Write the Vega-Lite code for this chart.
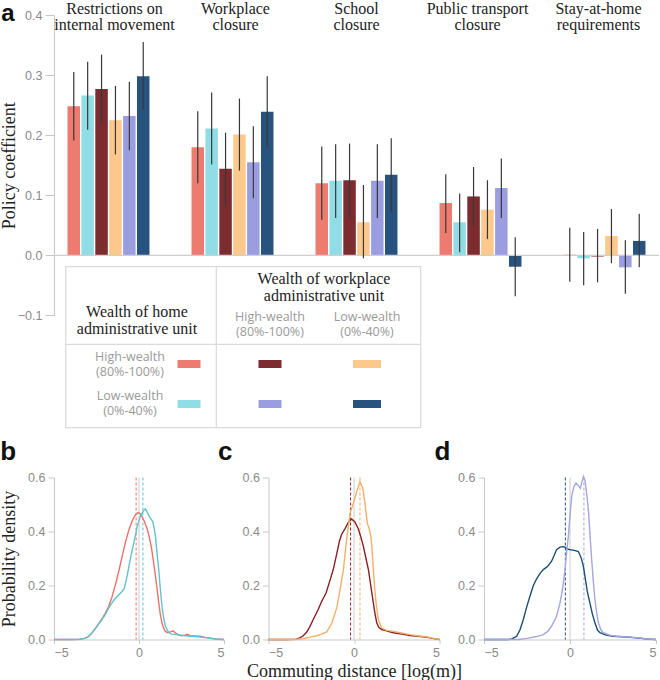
{
  "$schema": "https://vega.github.io/schema/vega-lite/v6.json",
  "background": "white",
  "padding": {"left": 0, "top": 0, "right": 0, "bottom": 0},
  "config": {
    "view": {"stroke": null},
    "axis": {"labelFont": "Liberation Sans", "labelFontSize": 12.5, "labelColor": "#8a8a8a", "domainColor": "#c8c8c8", "tickColor": "#c8c8c8", "grid": false, "titleFont": "Liberation Serif", "titleFontSize": 18, "titleFontWeight": "normal", "titleColor": "#222222", "labelPadding": 3},
    "title": {"font": "Liberation Sans", "fontSize": 26, "fontWeight": "bold", "color": "#111111", "anchor": "start", "frame": "bounds"}
  },
  "datasets": {
    "coef": [
      {"policy": "Restrictions on internal movement", "group": "home_high", "coef": 0.248, "lo": 0.191, "hi": 0.305},
      {"policy": "Restrictions on internal movement", "group": "home_low", "coef": 0.266, "lo": 0.209, "hi": 0.322},
      {"policy": "Restrictions on internal movement", "group": "hh_wh", "coef": 0.277, "lo": 0.220, "hi": 0.334},
      {"policy": "Restrictions on internal movement", "group": "hh_wl", "coef": 0.225, "lo": 0.168, "hi": 0.282},
      {"policy": "Restrictions on internal movement", "group": "hl_wh", "coef": 0.232, "lo": 0.175, "hi": 0.289},
      {"policy": "Restrictions on internal movement", "group": "hl_wl", "coef": 0.298, "lo": 0.242, "hi": 0.355},
      {"policy": "Workplace closure", "group": "home_high", "coef": 0.180, "lo": 0.120, "hi": 0.240},
      {"policy": "Workplace closure", "group": "home_low", "coef": 0.211, "lo": 0.151, "hi": 0.271},
      {"policy": "Workplace closure", "group": "hh_wh", "coef": 0.144, "lo": 0.084, "hi": 0.204},
      {"policy": "Workplace closure", "group": "hh_wl", "coef": 0.201, "lo": 0.141, "hi": 0.261},
      {"policy": "Workplace closure", "group": "hl_wh", "coef": 0.155, "lo": 0.095, "hi": 0.215},
      {"policy": "Workplace closure", "group": "hl_wl", "coef": 0.239, "lo": 0.180, "hi": 0.298},
      {"policy": "School closure", "group": "home_high", "coef": 0.120, "lo": 0.059, "hi": 0.181},
      {"policy": "School closure", "group": "home_low", "coef": 0.124, "lo": 0.062, "hi": 0.185},
      {"policy": "School closure", "group": "hh_wh", "coef": 0.125, "lo": 0.063, "hi": 0.186},
      {"policy": "School closure", "group": "hh_wl", "coef": 0.055, "lo": -0.005, "hi": 0.117},
      {"policy": "School closure", "group": "hl_wh", "coef": 0.124, "lo": 0.062, "hi": 0.185},
      {"policy": "School closure", "group": "hl_wl", "coef": 0.134, "lo": 0.073, "hi": 0.195},
      {"policy": "Public transport closure", "group": "home_high", "coef": 0.087, "lo": 0.037, "hi": 0.135},
      {"policy": "Public transport closure", "group": "home_low", "coef": 0.055, "lo": 0.005, "hi": 0.103},
      {"policy": "Public transport closure", "group": "hh_wh", "coef": 0.098, "lo": 0.048, "hi": 0.147},
      {"policy": "Public transport closure", "group": "hh_wl", "coef": 0.076, "lo": 0.027, "hi": 0.125},
      {"policy": "Public transport closure", "group": "hl_wh", "coef": 0.112, "lo": 0.062, "hi": 0.161},
      {"policy": "Public transport closure", "group": "hl_wl", "coef": -0.019, "lo": -0.068, "hi": 0.030},
      {"policy": "Stay-at-home requirements", "group": "home_high", "coef": 0.001, "lo": -0.044, "hi": 0.046},
      {"policy": "Stay-at-home requirements", "group": "home_low", "coef": -0.005, "lo": -0.050, "hi": 0.039},
      {"policy": "Stay-at-home requirements", "group": "hh_wh", "coef": -0.002, "lo": -0.045, "hi": 0.044},
      {"policy": "Stay-at-home requirements", "group": "hh_wl", "coef": 0.032, "lo": -0.013, "hi": 0.077},
      {"policy": "Stay-at-home requirements", "group": "hl_wh", "coef": -0.020, "lo": -0.064, "hi": 0.025},
      {"policy": "Stay-at-home requirements", "group": "hl_wl", "coef": 0.024, "lo": -0.020, "hi": 0.069}
    ],
    "policyTitles": [
      {"policy": "Restrictions on internal movement", "label": "Restrictions on\ninternal movement"},
      {"policy": "Workplace closure", "label": "Workplace\nclosure"},
      {"policy": "School closure", "label": "School\nclosure"},
      {"policy": "Public transport closure", "label": "Public transport\nclosure"},
      {"policy": "Stay-at-home requirements", "label": "Stay-at-home\nrequirements"}
    ],
    "legendTable": [
      {"part": "box", "c": 0, "c2": 8, "r": 0, "r2": 9},
      {"part": "line", "c": 4, "c2": 4, "r": 0, "r2": 9},
      {"part": "line", "c": 0, "c2": 8, "r": 4, "r2": 4},
      {"part": "head", "c": 2, "r": 2, "text": "Wealth of home\nadministrative unit"},
      {"part": "head", "c": 6, "r": 1, "text": "Wealth of workplace\nadministrative unit"},
      {"part": "sub", "c": 5, "r": 3, "text": "High-wealth\n(80%-100%)"},
      {"part": "sub", "c": 7, "r": 3, "text": "Low-wealth\n(0%-40%)"},
      {"part": "sub", "c": 1, "r": 5, "text": "High-wealth\n(80%-100%)"},
      {"part": "sub", "c": 1, "r": 7, "text": "Low-wealth\n(0%-40%)"},
      {"part": "swatch", "c": 3, "r": 6, "group": "home_high"},
      {"part": "swatch", "c": 5, "r": 6, "group": "hh_wh"},
      {"part": "swatch", "c": 7, "r": 6, "group": "hh_wl"},
      {"part": "swatch", "c": 3, "r": 8, "group": "home_low"},
      {"part": "swatch", "c": 5, "r": 8, "group": "hl_wh"},
      {"part": "swatch", "c": 7, "r": 8, "group": "hl_wl"}
    ],
    "means": [
      {"panel": "b", "group": "home_high", "x": -0.17},
      {"panel": "b", "group": "home_low", "x": 0.23},
      {"panel": "c", "group": "hh_wh", "x": -0.2},
      {"panel": "c", "group": "hh_wl", "x": 0.35},
      {"panel": "d", "group": "hl_wl", "x": -0.27},
      {"panel": "d", "group": "hl_wh", "x": 0.81}
    ],
    "dens": [
      {"panel":"b","group":"home_high","x":-5,"y":0},{"panel":"b","group":"home_high","x":-4,"y":0},{"panel":"b","group":"home_high","x":-3.5,"y":0.001},{"panel":"b","group":"home_high","x":-3.2,"y":0.004},{"panel":"b","group":"home_high","x":-3.0,"y":0.01},{"panel":"b","group":"home_high","x":-2.8,"y":0.022},{"panel":"b","group":"home_high","x":-2.6,"y":0.038},{"panel":"b","group":"home_high","x":-2.4,"y":0.056},{"panel":"b","group":"home_high","x":-2.2,"y":0.075},{"panel":"b","group":"home_high","x":-2.0,"y":0.095},{"panel":"b","group":"home_high","x":-1.8,"y":0.12},{"panel":"b","group":"home_high","x":-1.6,"y":0.155},{"panel":"b","group":"home_high","x":-1.4,"y":0.2},{"panel":"b","group":"home_high","x":-1.2,"y":0.25},{"panel":"b","group":"home_high","x":-1.0,"y":0.305},{"panel":"b","group":"home_high","x":-0.8,"y":0.36},{"panel":"b","group":"home_high","x":-0.6,"y":0.405},{"panel":"b","group":"home_high","x":-0.4,"y":0.44},{"panel":"b","group":"home_high","x":-0.2,"y":0.463},{"panel":"b","group":"home_high","x":-0.05,"y":0.47},{"panel":"b","group":"home_high","x":0.1,"y":0.465},{"panel":"b","group":"home_high","x":0.3,"y":0.44},{"panel":"b","group":"home_high","x":0.48,"y":0.41},{"panel":"b","group":"home_high","x":0.6,"y":0.38},{"panel":"b","group":"home_high","x":0.72,"y":0.345},{"panel":"b","group":"home_high","x":0.85,"y":0.29},{"panel":"b","group":"home_high","x":0.97,"y":0.234},{"panel":"b","group":"home_high","x":1.07,"y":0.185},{"panel":"b","group":"home_high","x":1.16,"y":0.136},{"panel":"b","group":"home_high","x":1.25,"y":0.095},{"panel":"b","group":"home_high","x":1.35,"y":0.062},{"panel":"b","group":"home_high","x":1.45,"y":0.042},{"panel":"b","group":"home_high","x":1.55,"y":0.03},{"panel":"b","group":"home_high","x":1.7,"y":0.025},{"panel":"b","group":"home_high","x":1.85,"y":0.028},{"panel":"b","group":"home_high","x":2.0,"y":0.032},{"panel":"b","group":"home_high","x":2.15,"y":0.024},{"panel":"b","group":"home_high","x":2.3,"y":0.017},{"panel":"b","group":"home_high","x":2.5,"y":0.014},{"panel":"b","group":"home_high","x":2.7,"y":0.016},{"panel":"b","group":"home_high","x":2.85,"y":0.019},{"panel":"b","group":"home_high","x":3.0,"y":0.014},{"panel":"b","group":"home_high","x":3.3,"y":0.013},{"panel":"b","group":"home_high","x":3.6,"y":0.012},{"panel":"b","group":"home_high","x":3.9,"y":0.008},{"panel":"b","group":"home_high","x":4.2,"y":0.005},{"panel":"b","group":"home_high","x":4.5,"y":0.002},{"panel":"b","group":"home_high","x":5,"y":0},
      {"panel":"b","group":"home_low","x":-5,"y":0},{"panel":"b","group":"home_low","x":-4,"y":0},{"panel":"b","group":"home_low","x":-3.5,"y":0.001},{"panel":"b","group":"home_low","x":-3.2,"y":0.004},{"panel":"b","group":"home_low","x":-3.0,"y":0.01},{"panel":"b","group":"home_low","x":-2.8,"y":0.022},{"panel":"b","group":"home_low","x":-2.6,"y":0.038},{"panel":"b","group":"home_low","x":-2.4,"y":0.055},{"panel":"b","group":"home_low","x":-2.2,"y":0.072},{"panel":"b","group":"home_low","x":-2.0,"y":0.09},{"panel":"b","group":"home_low","x":-1.84,"y":0.11},{"panel":"b","group":"home_low","x":-1.65,"y":0.13},{"panel":"b","group":"home_low","x":-1.45,"y":0.148},{"panel":"b","group":"home_low","x":-1.2,"y":0.165},{"panel":"b","group":"home_low","x":-1.0,"y":0.178},{"panel":"b","group":"home_low","x":-0.87,"y":0.188},{"panel":"b","group":"home_low","x":-0.7,"y":0.235},{"panel":"b","group":"home_low","x":-0.48,"y":0.308},{"panel":"b","group":"home_low","x":-0.3,"y":0.36},{"panel":"b","group":"home_low","x":-0.1,"y":0.42},{"panel":"b","group":"home_low","x":0.1,"y":0.46},{"panel":"b","group":"home_low","x":0.3,"y":0.48},{"panel":"b","group":"home_low","x":0.38,"y":0.484},{"panel":"b","group":"home_low","x":0.48,"y":0.472},{"panel":"b","group":"home_low","x":0.6,"y":0.456},{"panel":"b","group":"home_low","x":0.7,"y":0.447},{"panel":"b","group":"home_low","x":0.81,"y":0.437},{"panel":"b","group":"home_low","x":0.9,"y":0.41},{"panel":"b","group":"home_low","x":0.97,"y":0.38},{"panel":"b","group":"home_low","x":1.06,"y":0.32},{"panel":"b","group":"home_low","x":1.16,"y":0.26},{"panel":"b","group":"home_low","x":1.25,"y":0.19},{"panel":"b","group":"home_low","x":1.35,"y":0.123},{"panel":"b","group":"home_low","x":1.45,"y":0.08},{"panel":"b","group":"home_low","x":1.55,"y":0.05},{"panel":"b","group":"home_low","x":1.7,"y":0.03},{"panel":"b","group":"home_low","x":1.9,"y":0.02},{"panel":"b","group":"home_low","x":2.2,"y":0.018},{"panel":"b","group":"home_low","x":2.6,"y":0.015},{"panel":"b","group":"home_low","x":3.0,"y":0.012},{"panel":"b","group":"home_low","x":3.5,"y":0.01},{"panel":"b","group":"home_low","x":4.0,"y":0.006},{"panel":"b","group":"home_low","x":4.5,"y":0.002},{"panel":"b","group":"home_low","x":5,"y":0},
      {"panel":"c","group":"hh_wh","x":-5,"y":0},{"panel":"c","group":"hh_wh","x":-4,"y":0},{"panel":"c","group":"hh_wh","x":-3.4,"y":0.001},{"panel":"c","group":"hh_wh","x":-3.2,"y":0.005},{"panel":"c","group":"hh_wh","x":-3.0,"y":0.012},{"panel":"c","group":"hh_wh","x":-2.8,"y":0.025},{"panel":"c","group":"hh_wh","x":-2.6,"y":0.045},{"panel":"c","group":"hh_wh","x":-2.4,"y":0.072},{"panel":"c","group":"hh_wh","x":-2.1,"y":0.11},{"panel":"c","group":"hh_wh","x":-1.9,"y":0.14},{"panel":"c","group":"hh_wh","x":-1.63,"y":0.173},{"panel":"c","group":"hh_wh","x":-1.4,"y":0.22},{"panel":"c","group":"hh_wh","x":-1.21,"y":0.26},{"panel":"c","group":"hh_wh","x":-1.0,"y":0.32},{"panel":"c","group":"hh_wh","x":-0.85,"y":0.365},{"panel":"c","group":"hh_wh","x":-0.72,"y":0.39},{"panel":"c","group":"hh_wh","x":-0.53,"y":0.41},{"panel":"c","group":"hh_wh","x":-0.35,"y":0.432},{"panel":"c","group":"hh_wh","x":-0.14,"y":0.446},{"panel":"c","group":"hh_wh","x":0.05,"y":0.435},{"panel":"c","group":"hh_wh","x":0.25,"y":0.41},{"panel":"c","group":"hh_wh","x":0.4,"y":0.38},{"panel":"c","group":"hh_wh","x":0.55,"y":0.345},{"panel":"c","group":"hh_wh","x":0.7,"y":0.3},{"panel":"c","group":"hh_wh","x":0.84,"y":0.26},{"panel":"c","group":"hh_wh","x":0.98,"y":0.2},{"panel":"c","group":"hh_wh","x":1.13,"y":0.136},{"panel":"c","group":"hh_wh","x":1.23,"y":0.095},{"panel":"c","group":"hh_wh","x":1.33,"y":0.062},{"panel":"c","group":"hh_wh","x":1.45,"y":0.045},{"panel":"c","group":"hh_wh","x":1.62,"y":0.037},{"panel":"c","group":"hh_wh","x":1.8,"y":0.034},{"panel":"c","group":"hh_wh","x":2.0,"y":0.03},{"panel":"c","group":"hh_wh","x":2.3,"y":0.025},{"panel":"c","group":"hh_wh","x":2.6,"y":0.022},{"panel":"c","group":"hh_wh","x":2.9,"y":0.019},{"panel":"c","group":"hh_wh","x":3.27,"y":0.015},{"panel":"c","group":"hh_wh","x":3.6,"y":0.013},{"panel":"c","group":"hh_wh","x":4.0,"y":0.01},{"panel":"c","group":"hh_wh","x":4.3,"y":0.008},{"panel":"c","group":"hh_wh","x":4.6,"y":0.004},{"panel":"c","group":"hh_wh","x":5,"y":0},
      {"panel":"c","group":"hh_wl","x":-5,"y":0},{"panel":"c","group":"hh_wl","x":-3.5,"y":0},{"panel":"c","group":"hh_wl","x":-3.0,"y":0.003},{"panel":"c","group":"hh_wl","x":-2.6,"y":0.008},{"panel":"c","group":"hh_wl","x":-2.2,"y":0.014},{"panel":"c","group":"hh_wl","x":-1.9,"y":0.02},{"panel":"c","group":"hh_wl","x":-1.6,"y":0.028},{"panel":"c","group":"hh_wl","x":-1.3,"y":0.06},{"panel":"c","group":"hh_wl","x":-1.01,"y":0.117},{"panel":"c","group":"hh_wl","x":-0.8,"y":0.19},{"panel":"c","group":"hh_wl","x":-0.62,"y":0.259},{"panel":"c","group":"hh_wl","x":-0.43,"y":0.37},{"panel":"c","group":"hh_wl","x":-0.23,"y":0.468},{"panel":"c","group":"hh_wl","x":-0.04,"y":0.505},{"panel":"c","group":"hh_wl","x":0.15,"y":0.545},{"panel":"c","group":"hh_wl","x":0.35,"y":0.585},{"panel":"c","group":"hh_wl","x":0.51,"y":0.56},{"panel":"c","group":"hh_wl","x":0.64,"y":0.505},{"panel":"c","group":"hh_wl","x":0.78,"y":0.43},{"panel":"c","group":"hh_wl","x":0.88,"y":0.412},{"panel":"c","group":"hh_wl","x":0.99,"y":0.382},{"panel":"c","group":"hh_wl","x":1.06,"y":0.33},{"panel":"c","group":"hh_wl","x":1.13,"y":0.26},{"panel":"c","group":"hh_wl","x":1.21,"y":0.19},{"panel":"c","group":"hh_wl","x":1.29,"y":0.136},{"panel":"c","group":"hh_wl","x":1.42,"y":0.074},{"panel":"c","group":"hh_wl","x":1.62,"y":0.043},{"panel":"c","group":"hh_wl","x":1.9,"y":0.034},{"panel":"c","group":"hh_wl","x":2.3,"y":0.03},{"panel":"c","group":"hh_wl","x":2.7,"y":0.025},{"panel":"c","group":"hh_wl","x":3.27,"y":0.018},{"panel":"c","group":"hh_wl","x":3.8,"y":0.013},{"panel":"c","group":"hh_wl","x":4.25,"y":0.01},{"panel":"c","group":"hh_wl","x":4.6,"y":0.005},{"panel":"c","group":"hh_wl","x":5,"y":0},
      {"panel":"d","group":"hl_wl","x":-5,"y":0},{"panel":"d","group":"hl_wl","x":-3.6,"y":0},{"panel":"d","group":"hl_wl","x":-3.39,"y":0.002},{"panel":"d","group":"hl_wl","x":-3.1,"y":0.012},{"panel":"d","group":"hl_wl","x":-2.9,"y":0.037},{"panel":"d","group":"hl_wl","x":-2.71,"y":0.075},{"panel":"d","group":"hl_wl","x":-2.52,"y":0.12},{"panel":"d","group":"hl_wl","x":-2.33,"y":0.16},{"panel":"d","group":"hl_wl","x":-2.13,"y":0.2},{"panel":"d","group":"hl_wl","x":-1.94,"y":0.225},{"panel":"d","group":"hl_wl","x":-1.74,"y":0.245},{"panel":"d","group":"hl_wl","x":-1.55,"y":0.259},{"panel":"d","group":"hl_wl","x":-1.36,"y":0.268},{"panel":"d","group":"hl_wl","x":-1.26,"y":0.274},{"panel":"d","group":"hl_wl","x":-1.07,"y":0.29},{"panel":"d","group":"hl_wl","x":-0.93,"y":0.31},{"panel":"d","group":"hl_wl","x":-0.78,"y":0.333},{"panel":"d","group":"hl_wl","x":-0.58,"y":0.342},{"panel":"d","group":"hl_wl","x":-0.4,"y":0.344},{"panel":"d","group":"hl_wl","x":-0.29,"y":0.342},{"panel":"d","group":"hl_wl","x":-0.16,"y":0.335},{"panel":"d","group":"hl_wl","x":0,"y":0.333},{"panel":"d","group":"hl_wl","x":0.25,"y":0.33},{"panel":"d","group":"hl_wl","x":0.48,"y":0.326},{"panel":"d","group":"hl_wl","x":0.6,"y":0.31},{"panel":"d","group":"hl_wl","x":0.68,"y":0.296},{"panel":"d","group":"hl_wl","x":0.78,"y":0.27},{"panel":"d","group":"hl_wl","x":0.87,"y":0.234},{"panel":"d","group":"hl_wl","x":1.0,"y":0.18},{"panel":"d","group":"hl_wl","x":1.16,"y":0.135},{"panel":"d","group":"hl_wl","x":1.3,"y":0.095},{"panel":"d","group":"hl_wl","x":1.45,"y":0.062},{"panel":"d","group":"hl_wl","x":1.6,"y":0.035},{"panel":"d","group":"hl_wl","x":1.74,"y":0.025},{"panel":"d","group":"hl_wl","x":2.1,"y":0.016},{"panel":"d","group":"hl_wl","x":2.52,"y":0.012},{"panel":"d","group":"hl_wl","x":3.0,"y":0.01},{"panel":"d","group":"hl_wl","x":3.49,"y":0.008},{"panel":"d","group":"hl_wl","x":4.0,"y":0.005},{"panel":"d","group":"hl_wl","x":4.5,"y":0.002},{"panel":"d","group":"hl_wl","x":5,"y":0},
      {"panel":"d","group":"hl_wh","x":-5,"y":0},{"panel":"d","group":"hl_wh","x":-3,"y":0},{"panel":"d","group":"hl_wh","x":-2.5,"y":0.004},{"panel":"d","group":"hl_wh","x":-2.0,"y":0.01},{"panel":"d","group":"hl_wh","x":-1.55,"y":0.018},{"panel":"d","group":"hl_wh","x":-1.3,"y":0.03},{"panel":"d","group":"hl_wh","x":-1.07,"y":0.05},{"panel":"d","group":"hl_wh","x":-0.9,"y":0.07},{"panel":"d","group":"hl_wh","x":-0.78,"y":0.086},{"panel":"d","group":"hl_wh","x":-0.6,"y":0.13},{"panel":"d","group":"hl_wh","x":-0.48,"y":0.17},{"panel":"d","group":"hl_wh","x":-0.38,"y":0.21},{"panel":"d","group":"hl_wh","x":-0.29,"y":0.26},{"panel":"d","group":"hl_wh","x":-0.2,"y":0.32},{"panel":"d","group":"hl_wh","x":-0.1,"y":0.38},{"panel":"d","group":"hl_wh","x":0.0,"y":0.46},{"panel":"d","group":"hl_wh","x":0.1,"y":0.53},{"panel":"d","group":"hl_wh","x":0.22,"y":0.565},{"panel":"d","group":"hl_wh","x":0.35,"y":0.58},{"panel":"d","group":"hl_wh","x":0.48,"y":0.57},{"panel":"d","group":"hl_wh","x":0.6,"y":0.56},{"panel":"d","group":"hl_wh","x":0.7,"y":0.585},{"panel":"d","group":"hl_wh","x":0.78,"y":0.604},{"panel":"d","group":"hl_wh","x":0.87,"y":0.59},{"panel":"d","group":"hl_wh","x":0.97,"y":0.54},{"panel":"d","group":"hl_wh","x":1.07,"y":0.48},{"panel":"d","group":"hl_wh","x":1.17,"y":0.38},{"panel":"d","group":"hl_wh","x":1.26,"y":0.296},{"panel":"d","group":"hl_wh","x":1.35,"y":0.22},{"panel":"d","group":"hl_wh","x":1.45,"y":0.148},{"panel":"d","group":"hl_wh","x":1.55,"y":0.1},{"panel":"d","group":"hl_wh","x":1.65,"y":0.062},{"panel":"d","group":"hl_wh","x":1.8,"y":0.035},{"panel":"d","group":"hl_wh","x":1.94,"y":0.025},{"panel":"d","group":"hl_wh","x":2.3,"y":0.016},{"panel":"d","group":"hl_wh","x":2.71,"y":0.012},{"panel":"d","group":"hl_wh","x":3.1,"y":0.01},{"panel":"d","group":"hl_wh","x":3.49,"y":0.009},{"panel":"d","group":"hl_wh","x":4.0,"y":0.006},{"panel":"d","group":"hl_wh","x":4.5,"y":0.002},{"panel":"d","group":"hl_wh","x":5,"y":0}
    ]
  },
  "spacing": 161.5,
  "bounds": "flush",
  "vconcat": [
    {
      "width": 605,
      "height": 300.4,
      "title": {"text": "a", "offset": -25, "dx": 1, "fontSize": 24},
      "resolve": {"scale": {"x": "independent", "y": "independent"}},
      "layer": [
        {
          "data": {"name": "coef"},
          "mark": {"type": "bar"},
          "encoding": {
            "x": {"field": "policy", "type": "nominal", "scale": {"domain": ["Restrictions on internal movement", "Workplace closure", "School closure", "Public transport closure", "Stay-at-home requirements"], "paddingInner": 0.339, "paddingOuter": 0.109}, "axis": null},
            "xOffset": {"field": "group", "type": "nominal", "scale": {"domain": ["home_high", "home_low", "hh_wh", "hh_wl", "hl_wh", "hl_wl"], "paddingInner": 0.1, "paddingOuter": 0}},
            "y": {"field": "coef", "type": "quantitative", "scale": {"domain": [-0.1, 0.4], "nice": false, "zero": false}, "axis": {"values": [-0.1, 0, 0.1, 0.2, 0.3, 0.4], "format": ".1f", "title": "Policy coefficient", "tickSize": 9, "titlePadding": -1}},
            "color": {"field": "group", "type": "nominal", "scale": {"domain": ["home_high", "home_low", "hh_wh", "hh_wl", "hl_wh", "hl_wl"], "range": ["#EE7B6F", "#91DDE6", "#7C2B2F", "#FDC88B", "#9A9EE0", "#29537F"]}, "legend": null}
          }
        },
        {
          "data": {"values": [{"ref": 0}]},
          "mark": {"type": "rule", "color": "#cfcfcf", "strokeWidth": 1.2},
          "encoding": {"y": {"field": "ref", "type": "quantitative", "scale": {"domain": [-0.1, 0.4], "nice": false, "zero": false}, "axis": null}}
        },
        {
          "data": {"name": "coef"},
          "mark": {"type": "rule", "color": "#383838", "strokeWidth": 1.2},
          "encoding": {
            "x": {"field": "policy", "type": "nominal", "scale": {"domain": ["Restrictions on internal movement", "Workplace closure", "School closure", "Public transport closure", "Stay-at-home requirements"], "paddingInner": 0.339, "paddingOuter": 0.109}, "axis": null},
            "xOffset": {"field": "group", "type": "nominal"},
            "y": {"field": "lo", "type": "quantitative", "scale": {"domain": [-0.1, 0.4], "nice": false, "zero": false}, "axis": null},
            "y2": {"field": "hi"}
          }
        },
        {
          "data": {"name": "policyTitles"},
          "mark": {"type": "text", "font": "Liberation Serif", "fontSize": 16, "lineBreak": "\n", "lineHeight": 16.5, "baseline": "middle", "align": "center", "dy": -6.5, "color": "#222222"},
          "encoding": {
            "x": {"field": "policy", "type": "nominal", "scale": {"domain": ["Restrictions on internal movement", "Workplace closure", "School closure", "Public transport closure", "Stay-at-home requirements"], "paddingInner": 0.339, "paddingOuter": 0.109}, "axis": null},
            "y": {"datum": 0.4, "type": "quantitative", "scale": {"domain": [-0.1, 0.4], "nice": false, "zero": false}, "axis": null},
            "text": {"field": "label"}
          }
        },
        {
          "data": {"name": "legendTable"},
          "encoding": {
            "x": {"field": "c", "type": "quantitative", "scale": {"domain": [0, 1, 2, 3, 4, 5, 6, 7, 8], "range": [11.7, 76, 83, 135, 162.3, 216, 270, 313, 366.7], "nice": false, "zero": false}, "axis": null},
            "y": {"field": "r", "type": "quantitative", "scale": {"domain": [0, 1, 2, 3, 4, 5, 6, 7, 8, 9], "range": [251.6, 264.3, 297.3, 301.6, 329.3, 342.3, 349, 381.3, 389, 412.6], "nice": false, "zero": false}, "axis": null}
          },
          "layer": [
            {"transform": [{"filter": "datum.part == 'box'"}], "mark": {"type": "rect", "fill": "transparent", "stroke": "#dadada", "strokeWidth": 1.2}, "encoding": {"x2": {"field": "c2"}, "y2": {"field": "r2"}}},
            {"transform": [{"filter": "datum.part == 'line'"}], "mark": {"type": "rule", "color": "#dadada", "strokeWidth": 1.2}, "encoding": {"x2": {"field": "c2"}, "y2": {"field": "r2"}}},
            {"transform": [{"filter": "datum.part == 'head'"}], "mark": {"type": "text", "font": "Liberation Serif", "fontSize": 16, "lineBreak": "\n", "lineHeight": 17, "baseline": "middle", "align": "center", "color": "#222222"}, "encoding": {"text": {"field": "text"}}},
            {"transform": [{"filter": "datum.part == 'sub'"}], "mark": {"type": "text", "font": "Open Sans", "fontSize": 12.5, "lineBreak": "\n", "lineHeight": 15, "baseline": "middle", "align": "center", "color": "#9a9a9a"}, "encoding": {"text": {"field": "text"}}},
            {"transform": [{"filter": "datum.part == 'swatch' && datum.c < 7"}], "mark": {"type": "tick", "orient": "horizontal", "size": 23, "thickness": 8, "opacity": 1}, "encoding": {"color": {"field": "group", "type": "nominal", "legend": null}}},
            {"transform": [{"filter": "datum.part == 'swatch' && datum.c == 7"}], "mark": {"type": "tick", "orient": "horizontal", "size": 28, "thickness": 8, "opacity": 1}, "encoding": {"color": {"field": "group", "type": "nominal", "legend": null}}}
          ]
        }
      ]
    },
    {
      "spacing": 44.5,
      "bounds": "flush",
      "hconcat": [
        {
          "width": 170,
          "height": 162,
          "title": {"text": "b", "offset": 7},
          "encoding": {"x": {"field": "x", "type": "quantitative", "scale": {"domain": [-5, 5], "nice": false, "zero": false}, "axis": {"values": [-5, 0, 5], "title": null, "tickSize": 4}}},
          "layer": [
            {"data": {"values": [{"x": 0}]}, "mark": {"type": "rule", "color": "#cccccc", "strokeWidth": 1}},
            {"data": {"name": "means"}, "transform": [{"filter": "datum.panel == 'b'"}], "mark": {"type": "rule", "strokeDash": [3, 2], "strokeWidth": 1}, "encoding": {"stroke": {"field": "group", "type": "nominal", "scale": {"domain": ["home_high", "home_low", "hh_wh", "hh_wl", "hl_wh", "hl_wl"], "range": ["#E8736A", "#5FC3CD", "#8A1F24", "#F2B068", "#A4A7E2", "#1E4E75"]}, "legend": null}}},
            {"data": {"name": "dens"}, "transform": [{"filter": "datum.panel == 'b'"}], "mark": {"type": "line", "strokeWidth": 1.4}, "encoding": {"y": {"field": "y", "type": "quantitative", "scale": {"domain": [0, 0.6], "nice": false}, "axis": {"values": [0, 0.2, 0.4, 0.6], "format": ".1f", "title": "Probability density", "tickSize": 6, "titlePadding": 9.3}}, "stroke": {"field": "group", "type": "nominal", "scale": {"domain": ["home_high", "home_low", "hh_wh", "hh_wl", "hl_wh", "hl_wl"], "range": ["#E8736A", "#5FC3CD", "#8A1F24", "#F2B068", "#A4A7E2", "#1E4E75"]}, "legend": null}}}
          ]
        },
        {
          "width": 171,
          "height": 162,
          "title": {"text": "c", "offset": 7, "dx": -24},
          "encoding": {"x": {"field": "x", "type": "quantitative", "scale": {"domain": [-5, 5], "nice": false, "zero": false}, "axis": {"values": [-5, 0, 5], "title": "Commuting distance [log(m)]", "tickSize": 4, "titlePadding": 3}}},
          "layer": [
            {"data": {"values": [{"x": 0}]}, "mark": {"type": "rule", "color": "#cccccc", "strokeWidth": 1}},
            {"data": {"name": "means"}, "transform": [{"filter": "datum.panel == 'c'"}], "mark": {"type": "rule", "strokeDash": [3, 2], "strokeWidth": 1}, "encoding": {"stroke": {"field": "group", "type": "nominal", "scale": {"domain": ["home_high", "home_low", "hh_wh", "hh_wl", "hl_wh", "hl_wl"], "range": ["#E8736A", "#5FC3CD", "#8A1F24", "#F2B068", "#A4A7E2", "#1E4E75"]}, "legend": null}}},
            {"data": {"name": "dens"}, "transform": [{"filter": "datum.panel == 'c'"}], "mark": {"type": "line", "strokeWidth": 1.4}, "encoding": {"y": {"field": "y", "type": "quantitative", "scale": {"domain": [0, 0.6], "nice": false}, "axis": {"values": [0, 0.2, 0.4, 0.6], "format": ".1f", "title": null, "tickSize": 6}}, "stroke": {"field": "group", "type": "nominal", "scale": {"domain": ["home_high", "home_low", "hh_wh", "hh_wl", "hl_wh", "hl_wl"], "range": ["#E8736A", "#5FC3CD", "#8A1F24", "#F2B068", "#A4A7E2", "#1E4E75"]}, "legend": null}}}
          ]
        },
        {
          "width": 172,
          "height": 162,
          "title": {"text": "d", "offset": 7, "dx": -23},
          "encoding": {"x": {"field": "x", "type": "quantitative", "scale": {"domain": [-5, 5], "nice": false, "zero": false}, "axis": {"values": [-5, 0, 5], "title": null, "tickSize": 4}}},
          "layer": [
            {"data": {"values": [{"x": 0}]}, "mark": {"type": "rule", "color": "#cccccc", "strokeWidth": 1}},
            {"data": {"name": "means"}, "transform": [{"filter": "datum.panel == 'd'"}], "mark": {"type": "rule", "strokeDash": [3, 2], "strokeWidth": 1}, "encoding": {"stroke": {"field": "group", "type": "nominal", "scale": {"domain": ["home_high", "home_low", "hh_wh", "hh_wl", "hl_wh", "hl_wl"], "range": ["#E8736A", "#5FC3CD", "#8A1F24", "#F2B068", "#A4A7E2", "#1E4E75"]}, "legend": null}}},
            {"data": {"name": "dens"}, "transform": [{"filter": "datum.panel == 'd'"}], "mark": {"type": "line", "strokeWidth": 1.4}, "encoding": {"y": {"field": "y", "type": "quantitative", "scale": {"domain": [0, 0.6], "nice": false}, "axis": {"values": [0, 0.2, 0.4, 0.6], "format": ".1f", "title": null, "tickSize": 6}}, "stroke": {"field": "group", "type": "nominal", "scale": {"domain": ["home_high", "home_low", "hh_wh", "hh_wl", "hl_wh", "hl_wl"], "range": ["#E8736A", "#5FC3CD", "#8A1F24", "#F2B068", "#A4A7E2", "#1E4E75"]}, "legend": null}}}
          ]
        }
      ]
    }
  ]
}
